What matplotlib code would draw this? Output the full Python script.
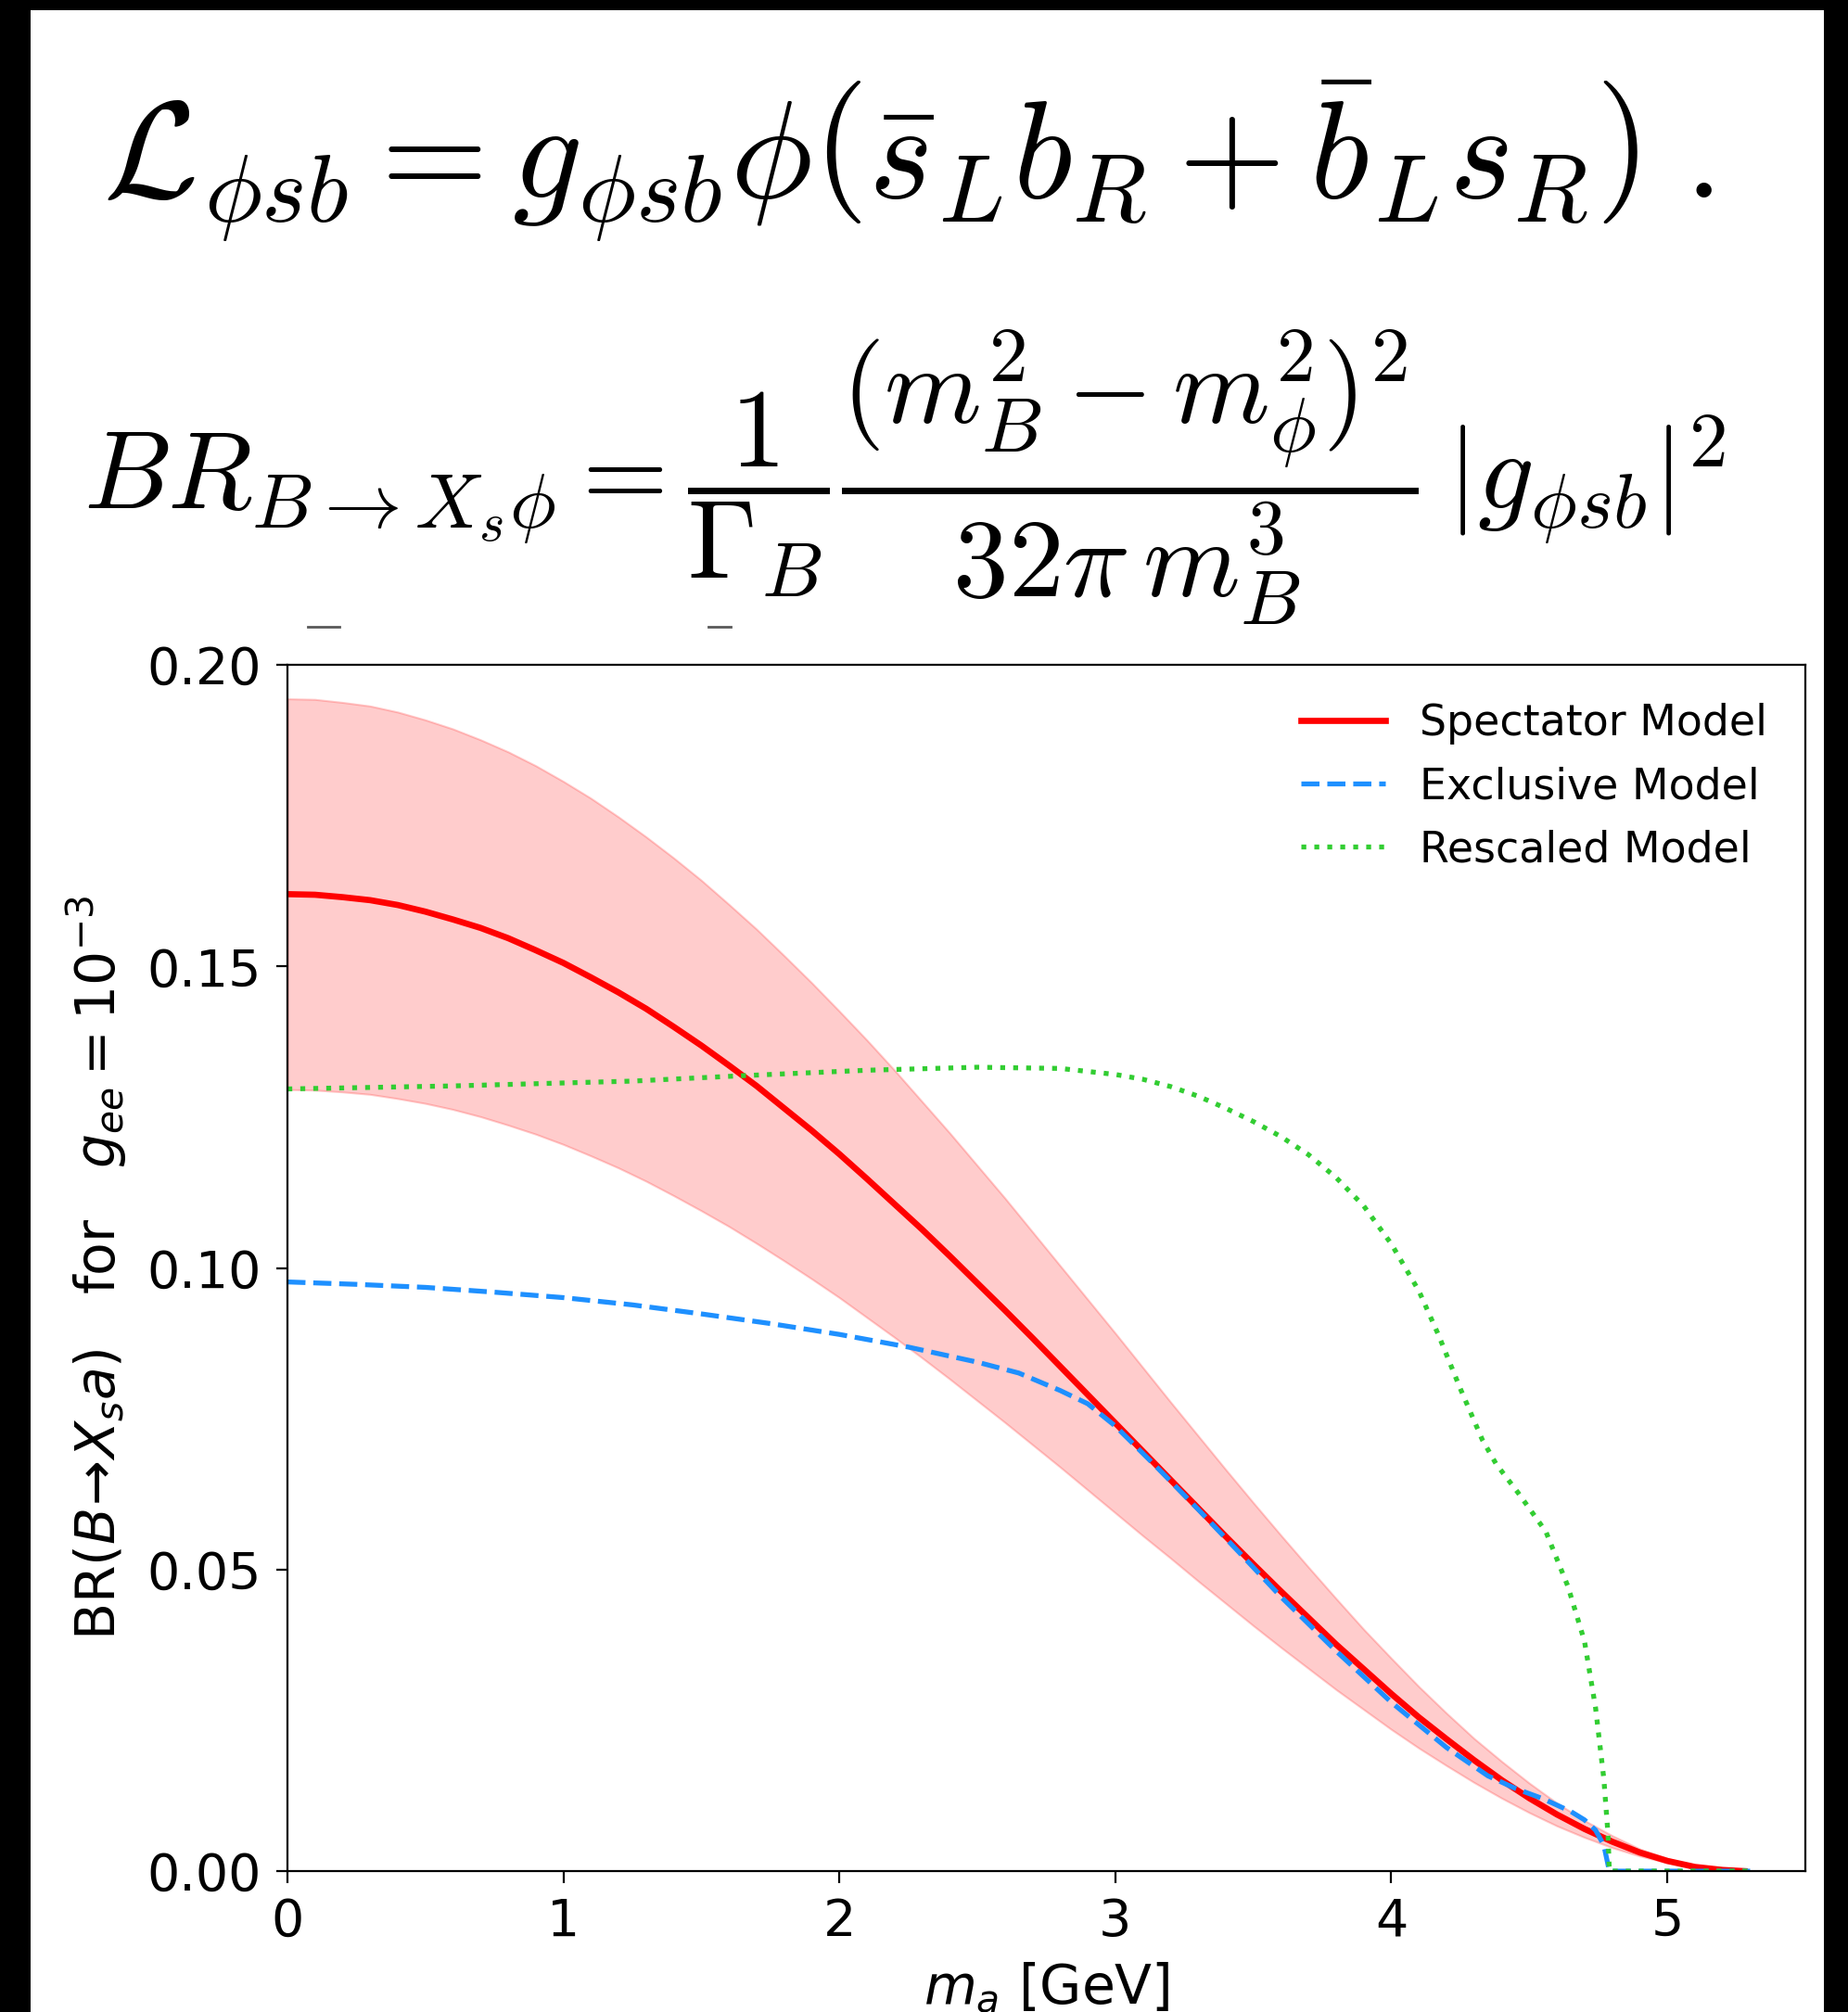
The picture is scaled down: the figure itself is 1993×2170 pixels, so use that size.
import matplotlib.pyplot as plt
from matplotlib.patches import Rectangle
from matplotlib.lines import Line2D

# Spectator model: central value and +-band
m_spec = [i / 10 for i in range(53)] + [5.28]
br_spec = [0.1620, 0.1619, 0.1615, 0.1610, 0.1602, 0.1591, 0.1578, 0.1564, 0.1547, 0.1527,
           0.1506, 0.1482, 0.1457, 0.1430, 0.1400, 0.1369, 0.1336, 0.1302, 0.1265, 0.1228,
           0.1189, 0.1148, 0.1106, 0.1064, 0.1020, 0.0975, 0.0930, 0.0884, 0.0837, 0.0790,
           0.0743, 0.0696, 0.0649, 0.0602, 0.0555, 0.0509, 0.0464, 0.0420, 0.0376, 0.0335,
           0.0294, 0.0255, 0.0219, 0.0184, 0.0151, 0.0121, 0.0094, 0.0070, 0.0049, 0.0031,
           0.0017, 0.0007, 0.0002, 0.0]
br_spec_hi = [0.1944, 0.1943, 0.1938, 0.1932, 0.1922, 0.1909, 0.1894, 0.1876, 0.1856, 0.1833,
              0.1807, 0.1779, 0.1748, 0.1715, 0.1680, 0.1643, 0.1603, 0.1562, 0.1518, 0.1473,
              0.1426, 0.1378, 0.1328, 0.1276, 0.1224, 0.1170, 0.1116, 0.1060, 0.1004, 0.0948,
              0.0892, 0.0835, 0.0778, 0.0722, 0.0666, 0.0611, 0.0557, 0.0504, 0.0452, 0.0401,
              0.0353, 0.0306, 0.0262, 0.0220, 0.0182, 0.0146, 0.0113, 0.0084, 0.0059, 0.0037,
              0.0021, 0.0009, 0.0002, 0.0]
br_spec_lo = [0.1296, 0.1295, 0.1292, 0.1288, 0.1281, 0.1273, 0.1263, 0.1251, 0.1237, 0.1222,
              0.1205, 0.1186, 0.1166, 0.1144, 0.1120, 0.1095, 0.1069, 0.1041, 0.1012, 0.0982,
              0.0951, 0.0918, 0.0885, 0.0851, 0.0816, 0.0780, 0.0744, 0.0707, 0.0670, 0.0632,
              0.0594, 0.0556, 0.0519, 0.0481, 0.0444, 0.0407, 0.0371, 0.0336, 0.0301, 0.0268,
              0.0235, 0.0204, 0.0175, 0.0147, 0.0121, 0.0097, 0.0075, 0.0056, 0.0039, 0.0025,
              0.0014, 0.0006, 0.0001, 0.0]

# Exclusive model
m_excl = [0.0, 0.25, 0.5, 0.75, 1.0, 1.25, 1.5, 1.75, 2.0, 2.25, 2.5, 2.65,
          2.8, 2.9, 3.0, 3.15, 3.3, 3.45, 3.6, 3.8, 4.0, 4.2, 4.35, 4.45,
          4.55, 4.65, 4.70, 4.74, 4.77, 4.79, 5.3]
br_excl = [0.0977, 0.0973, 0.0968, 0.0960, 0.0951, 0.0939, 0.0924, 0.0908,
           0.0890, 0.0869, 0.0844, 0.0826, 0.0797, 0.0775, 0.0738, 0.0670,
           0.0600, 0.0528, 0.0455, 0.0365, 0.0280, 0.0205, 0.0158, 0.0137,
           0.0120, 0.0099, 0.0085, 0.0068, 0.0043, 0.0, 0.0]

# Rescaled model
m_resc = [0.0, 0.6, 1.25, 1.65, 2.1, 2.5, 2.8, 3.0, 3.1, 3.2, 3.3, 3.4, 3.5, 3.6,
          3.7, 3.8, 3.9, 4.0, 4.1, 4.17, 4.25, 4.33, 4.38, 4.46, 4.56, 4.64, 4.70,
          4.74, 4.77, 4.785, 4.79, 5.3]
br_resc = [0.1297, 0.1302, 0.1310, 0.1319, 0.1328, 0.1333, 0.1331, 0.1321, 0.1313,
           0.1301, 0.1285, 0.1265, 0.1243, 0.1218, 0.1188, 0.1150, 0.1103, 0.1040,
           0.0962, 0.0890, 0.0800, 0.0715, 0.0675, 0.0627, 0.0563, 0.0472, 0.0381,
           0.0271, 0.0153, 0.0062, 0.0, 0.0]

etiquetas = ['Spectator Model', 'Exclusive Model', 'Rescaled Model']
xticks = [0, 1, 2, 3, 4, 5]
yticks = [0.00, 0.05, 0.10, 0.15, 0.20]

fig = plt.figure(figsize=(19.93, 21.70), dpi=100, facecolor='black')

# white sheet on the black background
fig.add_artist(Rectangle((0.0166, 0.0), 0.9704, 0.9949, transform=fig.transFigure,
                         facecolor='white', edgecolor='none', zorder=-1))
# leftovers of cropped text
for x0, x1 in [(332, 366), (764, 788)]:
    fig.add_artist(Line2D([x0 / 1993, x1 / 1993], [1 - 676 / 2170] * 2,
                          transform=fig.transFigure, color='0.35', lw=2))

# formulas
fig.text(0.0557, 0.9014,
         r'$\mathcal{L}_{\phi sb} = g_{\phi sb}\phi\left(\bar{s}_L b_R + \bar{b}_L s_R\right)\;.$',
         fontsize=107, math_fontfamily='cm', ha='left', va='baseline')
fig.text(0.045, 0.747,
         r'$BR_{B\to X_s\phi} = \dfrac{1}{\Gamma_B}\dfrac{(m_B^2 - m_\phi^2)^2}{32\pi\, m_B^3}\,|g_{\phi sb}|^2$',
         fontsize=86, math_fontfamily='cm', ha='left', va='baseline')

ax = fig.add_axes([0.1555, 0.0700, 0.8214, 0.5995])

ax.fill_between(m_spec, br_spec_lo, br_spec_hi, color='red', alpha=0.2, lw=1.5)
ax.plot(m_spec, br_spec, color='red', lw=4.8, label=etiquetas[0])
ax.plot(m_excl, br_excl, color='dodgerblue', lw=3.8, ls='--', label=etiquetas[1])
ax.plot(m_resc, br_resc, color='limegreen', lw=3.8, ls=':', label=etiquetas[2])

ax.set_xlim(0, 5.5)
ax.set_ylim(0, 0.2)
ax.set_xticks(xticks)
ax.set_yticks(yticks)
ax.set_yticklabels(['%.2f' % v for v in yticks])
ax.tick_params(labelsize=40, length=9, width=1.6, pad=11)
for s in ax.spines.values():
    s.set_linewidth(1.6)

ax.set_xlabel(r'$m_a$ [GeV]', fontsize=42, labelpad=10)
ax.set_ylabel(r'BR$(B\!\rightarrow\! X_s a)$   for   $g_{ee} = 10^{-3}$', fontsize=42, labelpad=14)

ax.legend(loc='upper right', frameon=False, fontsize=33, labelspacing=0.5)

fig.savefig('out.png', dpi=100)
